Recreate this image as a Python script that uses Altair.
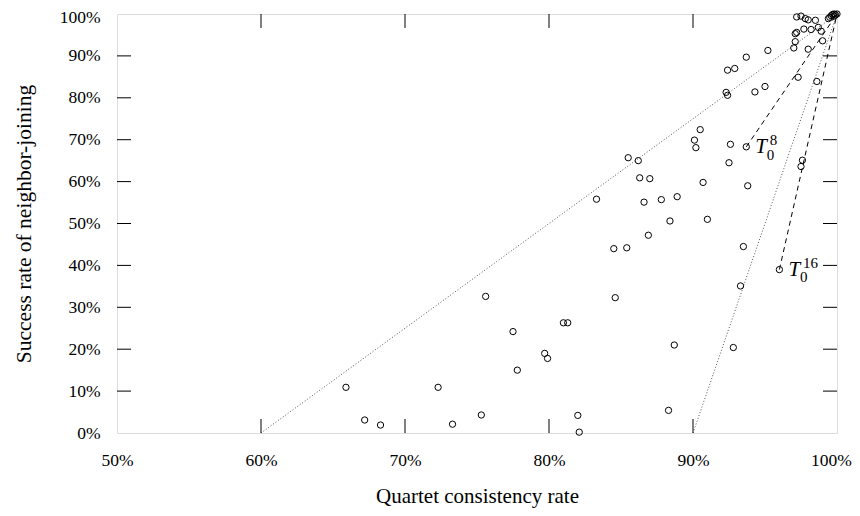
import altair as alt
import pandas as pd

# Quartet consistency rate (%) and success rate of neighbor-joining (%)
qc = [65.9, 72.3, 67.2, 68.3, 73.3, 75.3, 75.6, 84.6, 77.5, 81.0,
      81.3, 79.7, 79.9, 77.8, 88.7, 82.0, 82.1, 88.3, 85.5, 86.2,
      90.2, 90.1, 90.5, 92.6, 92.5, 86.3, 87.0, 90.7, 83.3, 86.6,
      87.8, 88.9, 88.4, 91.0, 86.9, 84.5, 85.4, 93.5, 93.3, 93.7,
      96.0, 97.6, 97.5, 93.8, 92.8, 93.7, 92.4, 92.9, 92.3, 92.4,
      94.3, 95.0, 95.2, 97.0, 97.1, 97.1, 97.2, 97.7, 98.2, 98.7,
      98.9, 99.0, 98.0, 97.3, 98.6, 97.2, 97.5, 97.8, 98.0, 98.5,
      99.4, 99.6, 99.7, 99.8, 99.9, 100.0, 99.8, 99.5]
nj = [10.9, 10.9, 3.1, 1.9, 2.1, 4.3, 32.6, 32.3, 24.2, 26.3,
      26.3, 19.0, 17.8, 15.0, 21.0, 4.2, 0.2, 5.4, 65.7, 65.0,
      68.1, 69.9, 72.4, 68.9, 64.5, 60.9, 60.7, 59.8, 55.8, 55.1,
      55.7, 56.4, 50.6, 51.0, 47.2, 44.0, 44.2, 44.5, 35.1, 68.3,
      39.0, 65.1, 63.6, 59.0, 20.4, 89.7, 86.6, 87.0, 81.3, 80.6,
      81.4, 82.7, 91.3, 91.9, 93.4, 95.3, 95.6, 96.4, 96.3, 96.8,
      95.9, 93.6, 91.6, 84.9, 83.9, 99.3, 99.5, 98.9, 98.6, 98.5,
      98.9, 99.6, 99.9, 100.0, 99.8, 100.0, 99.5, 99.2]

# Reference lines: dotted from (x0, 0) to (100, 100)
dotted_start_x = [60, 90]
# Dashed lines from the labelled trees to (100, 100)
label_names = ["8", "16"]
label_qc = [93.7, 96.0]
label_nj = [68.3, 39.0]

x_ticks = [50, 60, 70, 80, 90, 100]
y_ticks = [0, 10, 20, 30, 40, 50, 60, 70, 80, 90, 100]
inner_x_ticks = [60, 70, 80, 90]
inner_y_ticks = [10, 20, 30, 40, 50, 60, 70, 80, 90]

FONT = "Liberation Serif"
W, H = 720, 419
TICK = 14

pts = pd.DataFrame({"qc": qc, "nj": nj})

rows = []
for i, x0 in enumerate(dotted_start_x):
    rows.append({"seg": f"d{i}", "kind": "dotted", "qc": x0, "nj": 0})
    rows.append({"seg": f"d{i}", "kind": "dotted", "qc": 100, "nj": 100})
for i, (lx, ly) in enumerate(zip(label_qc, label_nj)):
    rows.append({"seg": f"a{i}", "kind": "dashed", "qc": lx, "nj": ly})
    rows.append({"seg": f"a{i}", "kind": "dashed", "qc": 100, "nj": 100})
lines = pd.DataFrame(rows)

labels = pd.DataFrame({"qc": label_qc, "nj": label_nj, "sup": label_names})

xs = alt.Scale(domain=[50, 100], nice=False, zero=False)
ys = alt.Scale(domain=[0, 100], nice=False, zero=True)

x_axis = alt.Axis(values=x_ticks, labelExpr="datum.value + '%'", tickSize=0,
                  domain=False, grid=False, labelFont=FONT, labelFontSize=17.5,
                  labelColor="black", labelPadding=18, labelFlush=False,
                  labelOffset={"condition": {"test": "datum.value == 100", "value": -6},
                               "value": 0},
                  labelOverlap=False, title="Quartet consistency rate",
                  titleFont=FONT, titleFontSize=21, titleFontWeight="normal",
                  titleColor="black", titlePadding=17)
y_axis = alt.Axis(values=y_ticks, labelExpr="datum.value + '%'", tickSize=0,
                  domain=False, grid=False, labelFont=FONT, labelFontSize=17.5,
                  labelColor="black", labelPadding=17, labelFlush=False,
                  labelOffset={"condition": {"test": "datum.value == 100", "value": 3},
                               "value": 0},
                  labelOverlap=False, title="Success rate of neighbor-joining",
                  titleFont=FONT, titleFontSize=21.5, titleFontWeight="normal",
                  titleColor="black", titlePadding=24)

points = alt.Chart(pts).mark_point(shape="circle", filled=False, stroke="black",
                                   strokeWidth=1, size=40, opacity=1).encode(
    x=alt.X("qc:Q", scale=xs, axis=x_axis),
    y=alt.Y("nj:Q", scale=ys, axis=y_axis),
)

dotted = alt.Chart(lines).transform_filter("datum.kind == 'dotted'").mark_line(
    color="#555555", strokeWidth=1, strokeDash=[1, 2]).encode(
    x=alt.X("qc:Q", scale=xs), y=alt.Y("nj:Q", scale=ys), detail="seg:N")

dashed = alt.Chart(lines).transform_filter("datum.kind == 'dashed'").mark_line(
    color="black", strokeWidth=1, strokeDash=[5, 4]).encode(
    x=alt.X("qc:Q", scale=xs), y=alt.Y("nj:Q", scale=ys), detail="seg:N")

tx = pd.DataFrame({"v": inner_x_ticks})
ty = pd.DataFrame({"v": inner_y_ticks})
tick_style = dict(color="black", strokeWidth=1)
xt_bottom = alt.Chart(tx).mark_rule(**tick_style).encode(
    x=alt.X("v:Q", scale=xs), y=alt.value(H), y2=alt.value(H - TICK))
xt_top = alt.Chart(tx).mark_rule(**tick_style).encode(
    x=alt.X("v:Q", scale=xs), y=alt.value(0), y2=alt.value(TICK))
yt_left = alt.Chart(ty).mark_rule(**tick_style).encode(
    y=alt.Y("v:Q", scale=ys), x=alt.value(0), x2=alt.value(TICK))
yt_right = alt.Chart(ty).mark_rule(**tick_style).encode(
    y=alt.Y("v:Q", scale=ys), x=alt.value(W), x2=alt.value(W - TICK))

t_main = alt.Chart(labels).mark_text(text="T", font=FONT, fontSize=21,
                                     fontStyle="italic", align="left",
                                     baseline="alphabetic", dx=9, dy=6,
                                     color="black").encode(
    x=alt.X("qc:Q", scale=xs), y=alt.Y("nj:Q", scale=ys))
t_sub = alt.Chart(labels).mark_text(text="0", font=FONT, fontSize=15,
                                    align="left", baseline="alphabetic", dx=20.5,
                                    dy=12.7, color="black").encode(
    x=alt.X("qc:Q", scale=xs), y=alt.Y("nj:Q", scale=ys))
t_sup = alt.Chart(labels).mark_text(font=FONT, fontSize=15, align="left",
                                    baseline="alphabetic", dx=23.5, dy=-1.5,
                                    color="black").encode(
    x=alt.X("qc:Q", scale=xs), y=alt.Y("nj:Q", scale=ys), text="sup:N")

chart = alt.layer(dotted, dashed, xt_bottom, xt_top, yt_left, yt_right,
                  points, t_main, t_sub, t_sup).properties(
    width=W, height=H,
    autosize=alt.AutoSizeParams(type="none"),
    padding={"left": 109, "top": 6, "right": 15, "bottom": 75},
).configure_view(stroke="black", strokeWidth=1.5).configure(background="white")

chart.save("out.html", embed_options={"renderer": "svg", "actions": False})
